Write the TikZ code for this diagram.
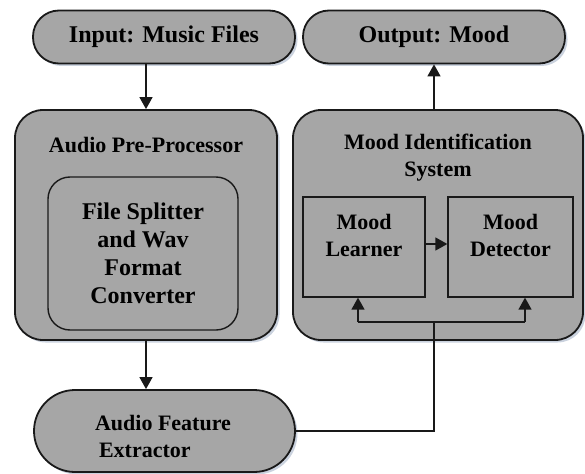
\documentclass[tikz,border=0pt]{standalone}
\usepackage{fontspec}
\setmainfont{Liberation Serif}
\usetikzlibrary{arrows.meta,shadows,calc}
\definecolor{boxgray}{RGB}{166,166,166}
\definecolor{shadowblue}{RGB}{150,165,190}
\begin{document}
\begin{tikzpicture}[x=1pt,y=-1pt,
  shade box/.style={draw=black!90,line width=1.8pt,fill=boxgray,
    drop shadow={shadow xshift=2.5pt,shadow yshift=-2.5pt,fill=shadowblue,opacity=0.5}},
  pill/.style={shade box,rectangle,inner sep=0pt},
  label text/.style={font=\bfseries\fontsize{22}{27}\selectfont,align=center,text=black},
  big text/.style={font=\bfseries\fontsize{24}{28}\selectfont,align=center,text=black},
  plainbox/.style={draw=black!90,line width=1.3pt,fill=boxgray,inner sep=0pt},
  arr/.style={line width=1.4pt,draw=black!90,-{Triangle[length=12pt,width=13pt]}},
  wire/.style={line width=1.4pt,draw=black!90}]
\useasboundingbox (0,0) rectangle (585,473);

% input / output terminals
\node[pill,rounded corners=26pt,minimum width=262pt,minimum height=53pt,big text] (in) at (164,37) {Input: Music Files};
\node[pill,rounded corners=26pt,minimum width=262pt,minimum height=53pt,big text] (out) at (434,37) {Output: Mood};

% audio pre-processor
\node[pill,rounded corners=28pt,minimum width=262pt,minimum height=230pt] (pre) at (146,225) {};
\node[label text] (preT) at (146,145) {Audio Pre-Processor};
\node[draw=black!90,line width=1.4pt,fill=boxgray,rounded corners=22pt,inner sep=0pt,
      minimum width=190pt,minimum height=153pt,big text] (split) at (143,253.5)
      {File Splitter\\and Wav\\Format\\Converter};

% mood identification system
\node[pill,rounded corners=28pt,minimum width=290pt,minimum height=230pt] (sys) at (438,225) {};
\node[label text] (sysT) at (438,158) {Mood Identification\\System};
\node[plainbox,minimum width=122pt,minimum height=100pt] (learn) at (364,247) {};
\node[label text] (learnT) at (364,235) {Mood\\Learner};
\node[plainbox,minimum width=125pt,minimum height=100pt] (detect) at (510.5,247) {};
\node[label text] (detectT) at (510.5,235) {Mood\\Detector};

% feature extractor
\node[pill,rounded corners=41pt,minimum width=261pt,minimum height=82pt] (extract) at (164.5,431) {};
\node[label text,align=left] (extractT) at (163,436) {Audio Feature\\\hspace*{4pt}Extractor};

% flow
\draw[arr] (in.south -| pre.north) -- (pre.north);
\draw[arr] (pre.south) -- (pre.south |- extract.north);
\draw[arr] (sys.north -| out.south) -- (out.south);
\draw[arr] (learn.east |- 0,244) -- (detect.west |- 0,244);

\coordinate (bus) at (434,322);
\coordinate (bl) at (358,322);
\coordinate (br) at (525,322);
\draw[wire] (extract.east) -| (bus);
\draw[wire] (bl) -- (br);
\draw[arr] (bl) -- (bl |- learn.south);
\draw[arr] (br) -- (br |- detect.south);
\end{tikzpicture}
\end{document}
